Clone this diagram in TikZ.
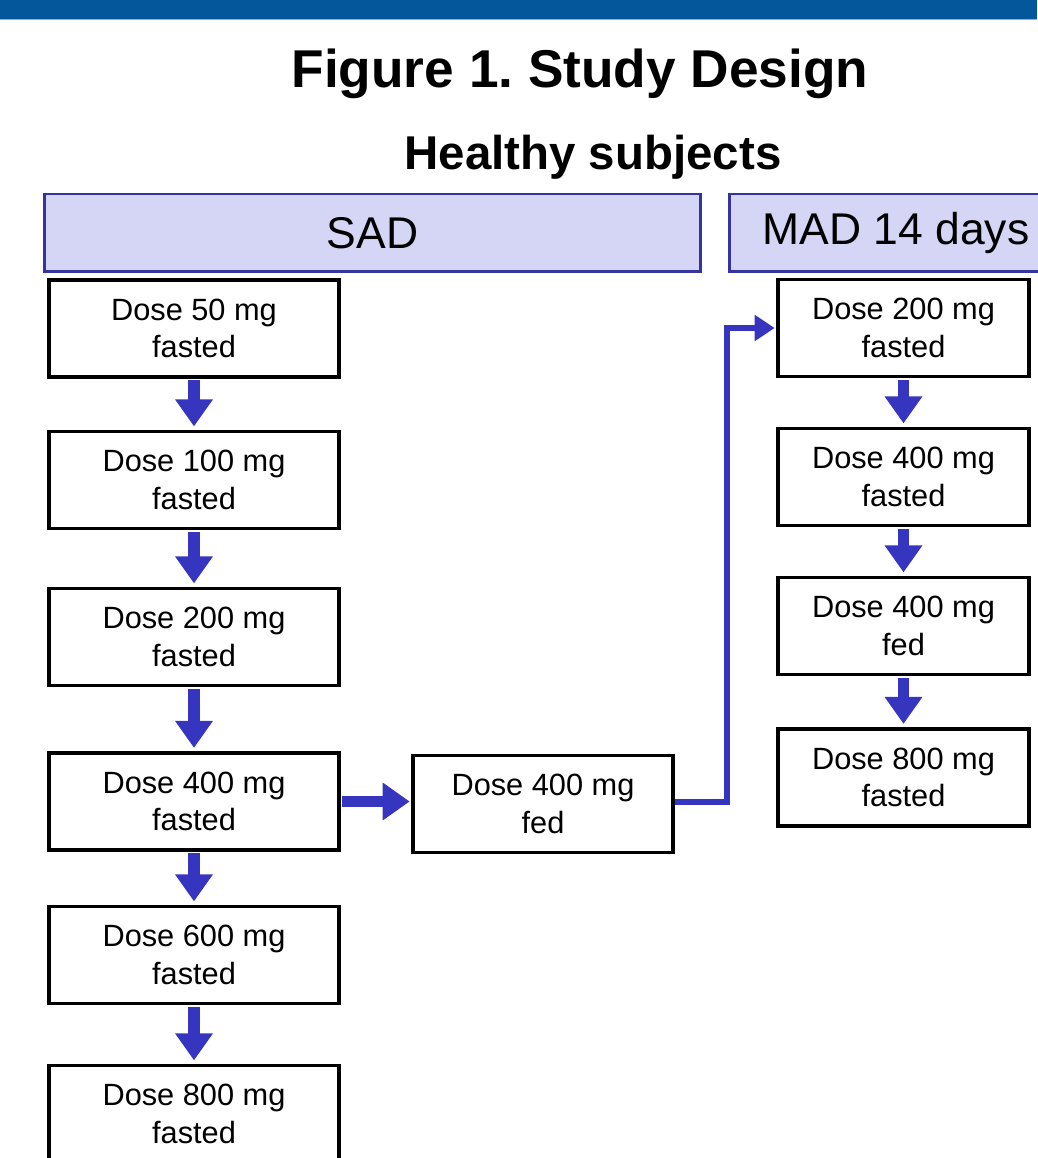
\documentclass[tikz,border=0pt]{standalone}
\usepackage{fontspec}
\setmainfont{Liberation Sans}
\usepackage{tikz}
\usetikzlibrary{arrows.meta}
\definecolor{banner}{RGB}{3, 87, 154}
\definecolor{bannerline}{RGB}{140, 180, 226}
\definecolor{hdrfill}{RGB}{213, 213, 245}
\definecolor{hdrdraw}{RGB}{52, 52, 160}
\definecolor{flow}{RGB}{53, 53, 192}

\tikzset{
  dosebox/.style={draw=black, line width=1.8pt, fill=white, inner sep=0pt,
    minimum height=1.94cm, align=center,
    font=\fontsize{17.5}{21.5}\selectfont},
  hdrbox/.style={draw=hdrdraw, line width=1.7pt, fill=hdrfill, inner sep=0pt,
    minimum height=1.56cm, font=\fontsize{25.3}{30}\selectfont},
  stepflow/.style={draw=flow, line width=6.8pt,
    -{Triangle[width=0.72cm,length=0.54cm]}},
  linkflow/.style={draw=flow, line width=3.4pt,
    -{Triangle[width=0.5cm,length=0.4cm]}}
}

\begin{document}
\frenchspacing
\begin{tikzpicture}[x=0.02cm, y=-0.02cm]
  \useasboundingbox (0,0) rectangle (1037,1158);

  % top banner
  \fill[banner] (0,0) rectangle (1037,19);
  \fill[bannerline] (0,19) rectangle (1037,20.5);

  % titles
  \node[anchor=base, font=\fontsize{30.3}{36}\selectfont\bfseries] (title)
    at (580,88) {Figure 1. Study Design};
  \node[anchor=base, font=\fontsize{27}{32}\selectfont\bfseries] (group)
    at (593,170) {Healthy subjects};

  % arm headers
  \node[hdrbox, minimum width=13.14cm] (sad) at (372.5,233) {SAD};
  \node[hdrbox, minimum width=6.62cm] (mad) at (894.5,233) {};
  \node[font=\fontsize{25.3}{30}\selectfont] (madtext) at (896,233) {MAD 14 days};

  % SAD column
  \node[dosebox, minimum width=5.8cm] (s1) at (194,328.5) {Dose 50 mg\\fasted};
  \node[dosebox, minimum width=5.8cm] (s2) at (194,480) {Dose 100 mg\\fasted};
  \node[dosebox, minimum width=5.8cm] (s3) at (194,637) {Dose 200 mg\\fasted};
  \node[dosebox, minimum width=5.8cm] (s4) at (194,801.5) {Dose 400 mg\\fasted};
  \node[dosebox, minimum width=5.8cm] (s5) at (194,955) {Dose 600 mg\\fasted};
  \node[dosebox, minimum width=5.8cm] (s6) at (194,1114) {Dose 800 mg\\fasted};

  % food effect
  \node[dosebox, minimum width=5.2cm] (fed) at (543,804) {Dose 400 mg\\fed};

  % MAD column
  \node[dosebox, minimum width=5.02cm] (m1) at (903.5,328) {Dose 200 mg\\fasted};
  \node[dosebox, minimum width=5.02cm] (m2) at (903.5,477) {Dose 400 mg\\fasted};
  \node[dosebox, minimum width=5.02cm] (m3) at (903.5,626) {Dose 400 mg\\fed};
  \node[dosebox, minimum width=5.02cm] (m4) at (903.5,777.5) {Dose 800 mg\\fasted};

  % arrows
  \foreach \a/\b in {s1/s2, s2/s3, s3/s4, s4/s5, s5/s6, m1/m2, m2/m3, m3/m4}
    \draw[stepflow, shorten <=1pt, shorten >=2pt] (\a.south) -- (\b.north);
  \draw[stepflow, shorten <=1pt, shorten >=1pt] (s4.east) -- (s4.east -| fed.west);

  \coordinate (elbow) at (727,802);
  \draw[linkflow, shorten >=1pt] (fed.east |- elbow) -- (elbow) |- (m1.west);
\end{tikzpicture}
\end{document}
